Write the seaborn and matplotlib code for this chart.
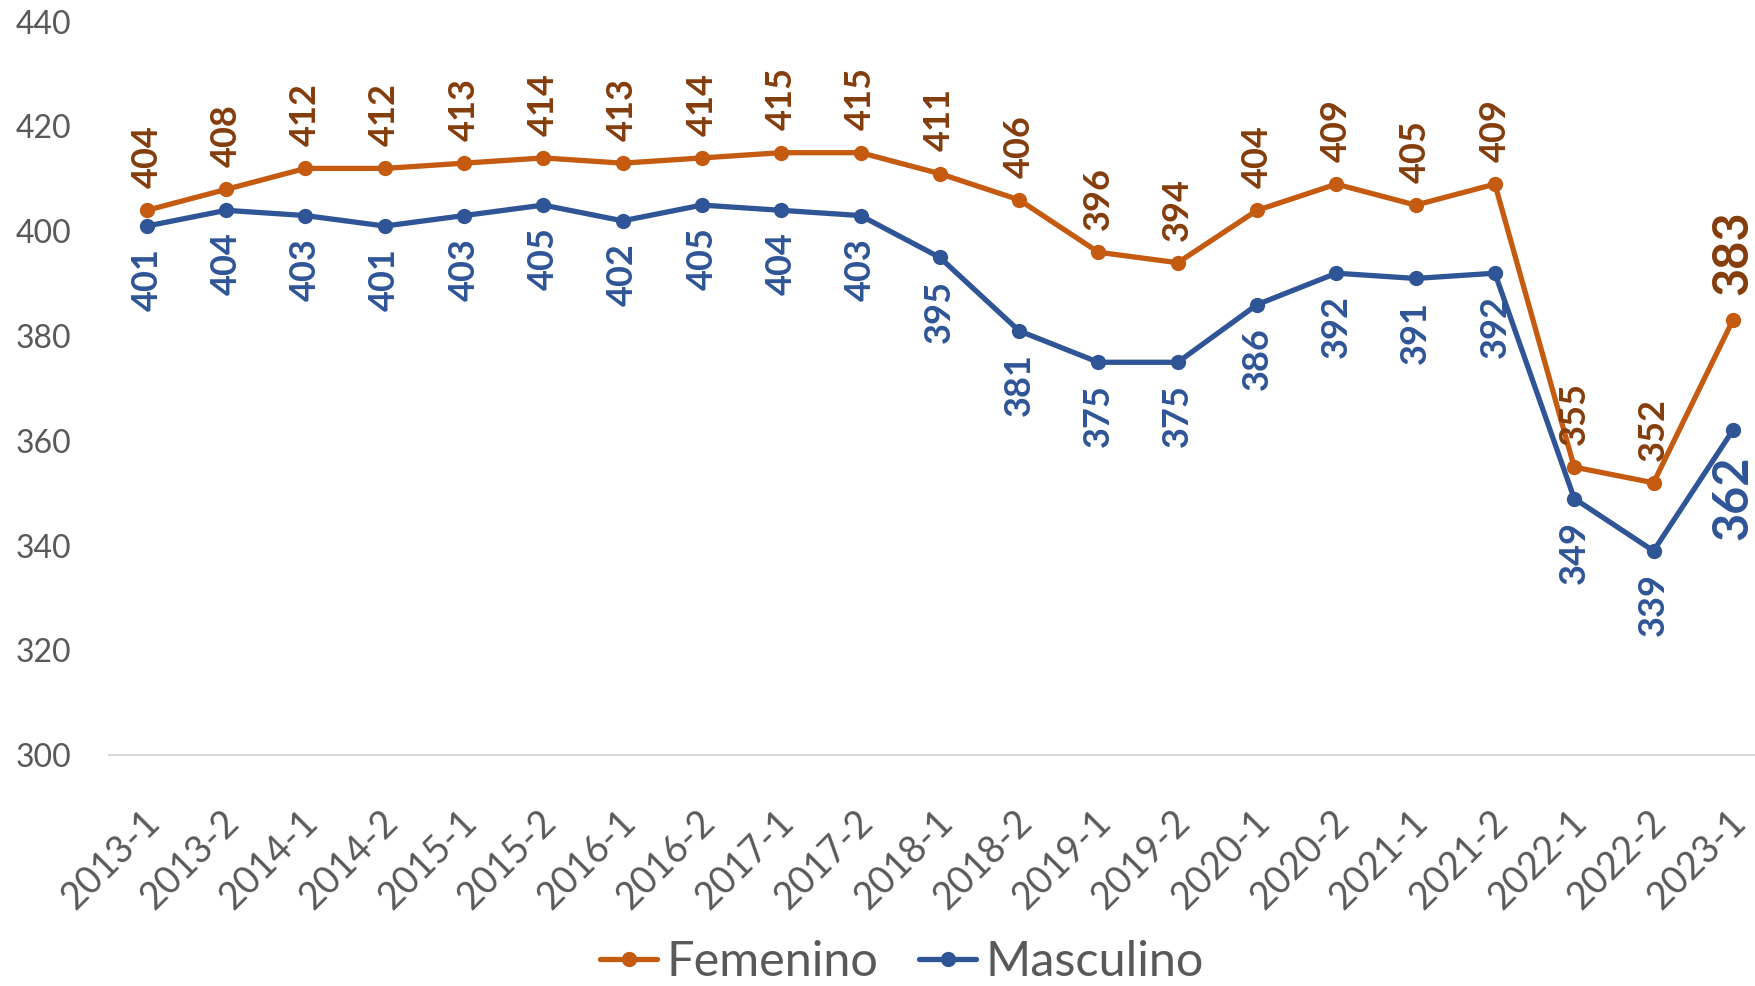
import numpy as np
import pandas as pd
import matplotlib
matplotlib.use("Agg")
import matplotlib.pyplot as plt
from matplotlib.transforms import ScaledTranslation
from matplotlib.lines import Line2D
import seaborn as sns

periods = ["2013-1", "2013-2", "2014-1", "2014-2", "2015-1", "2015-2", "2016-1",
           "2016-2", "2017-1", "2017-2", "2018-1", "2018-2", "2019-1", "2019-2",
           "2020-1", "2020-2", "2021-1", "2021-2", "2022-1", "2022-2", "2023-1"]
femenino = [404, 408, 412, 412, 413, 414, 413, 414, 415, 415, 411, 406, 396, 394,
            404, 409, 405, 409, 355, 352, 383]
masculino = [401, 404, 403, 401, 403, 405, 402, 405, 404, 403, 395, 381, 375, 375,
             386, 392, 391, 392, 349, 339, 362]
series_names = ["Femenino", "Masculino"]
y_ticks = [300, 320, 340, 360, 380, 400, 420, 440]

line_colors = {"Femenino": "#C55A11", "Masculino": "#2F5597"}
label_colors = {"Femenino": "#843C0C", "Masculino": "#2F5597"}

df = pd.DataFrame({
    "Periodo": periods * 2,
    "Puntaje": femenino + masculino,
    "Sexo": [series_names[0]] * len(periods) + [series_names[1]] * len(periods),
})

sns.set_theme(style="white")
plt.rcParams["font.family"] = ["Lato", "DejaVu Sans"]

fig = plt.figure(figsize=(17.55, 9.86), dpi=100)
ax = fig.add_axes([0.062, 0.234, 0.938, 0.744])

sns.lineplot(data=df, x="Periodo", y="Puntaje", hue="Sexo", palette=line_colors,
             marker="o", markersize=11, linewidth=3.8, markeredgewidth=0,
             sort=False, ax=ax, legend=False)

ax.set_ylim(300, 440)
ax.set_yticks(y_ticks)
ax.set_xlim(-0.48, 20.28)
ax.set_xlabel("")
ax.set_ylabel("")
for s in ["top", "right", "left"]:
    ax.spines[s].set_visible(False)
ax.spines["bottom"].set_color("#d9d9d9")
ax.spines["bottom"].set_linewidth(1.5)
ax.grid(False)
ax.tick_params(axis="both", length=0, colors="#595959")
ax.tick_params(axis="y", labelsize=23, pad=27)
ax.tick_params(axis="x", labelsize=27, pad=44)
ax.set_xticks(range(len(periods)))
ax.set_xticklabels(periods, rotation=45, ha="right", va="center", rotation_mode="anchor")
for lab in ax.get_xticklabels():
    lab.set_transform(lab.get_transform() + ScaledTranslation(5 / 72, 0, fig.dpi_scale_trans))

n = len(periods)
for i, (f, m) in enumerate(zip(femenino, masculino)):
    last = i == n - 1
    fs = 35 if last else 26
    off = 18 if last else 16
    ax.annotate(str(f), (i, f), xytext=(0, off), textcoords="offset points",
                ha="center", va="bottom", rotation=90, fontsize=fs,
                fontweight="bold", color=label_colors["Femenino"])
    ax.annotate(str(m), (i, m), xytext=(0, -off), textcoords="offset points",
                ha="center", va="top", rotation=90, fontsize=fs,
                fontweight="bold", color=label_colors["Masculino"])

handles = [Line2D([0], [0], color=line_colors[s], lw=3.8, marker="o", markersize=11,
                  markeredgewidth=0) for s in series_names]
leg = fig.legend(handles, series_names, loc="center", bbox_to_anchor=(0.514, 0.024),
                 ncol=2, frameon=False, fontsize=35, handlelength=1.17,
                 handletextpad=0.19, columnspacing=0.84)
for t in leg.get_texts():
    t.set_color("#595959")

fig.savefig("out.png", dpi=100, facecolor="white")
